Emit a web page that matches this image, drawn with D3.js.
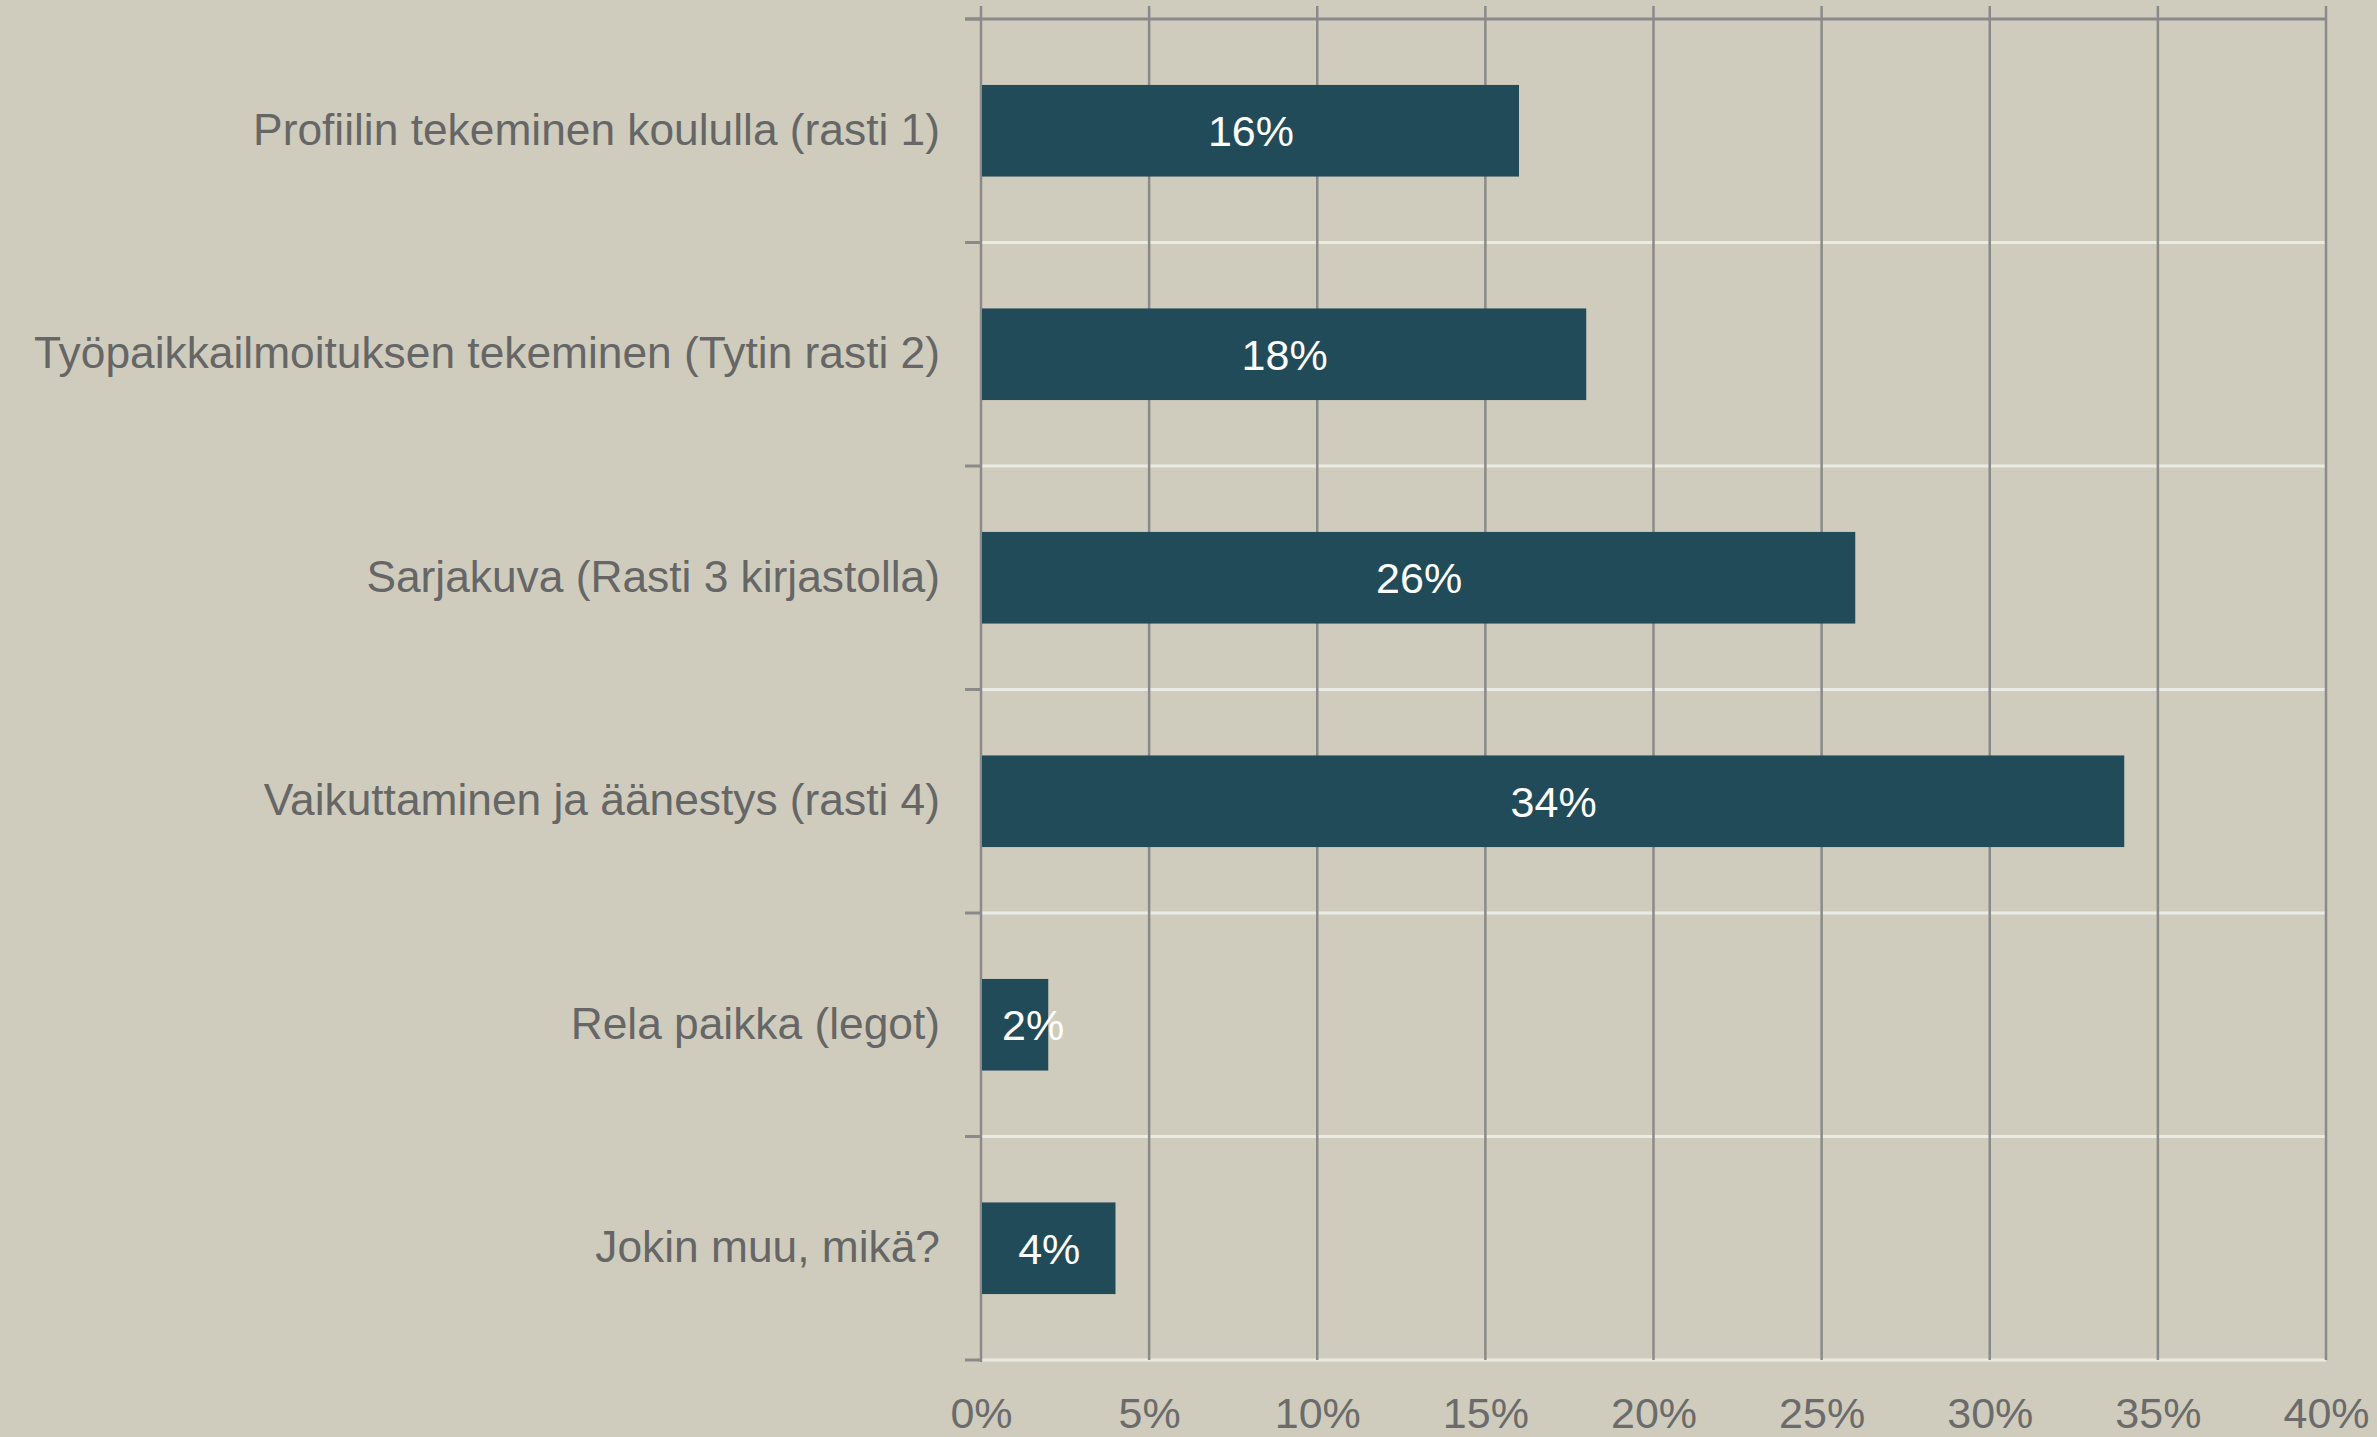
<!DOCTYPE html>
<html>
<head>
<meta charset="utf-8">
<script src="https://cdn.jsdelivr.net/npm/d3@7"></script>
<style>
  html, body { margin: 0; padding: 0; background: #cfccbd; }
  svg { display: block; }
  text { font-family: "Liberation Sans", Arial, sans-serif; }
</style>
</head>
<body>
<script>
const categories = [
  "Profiilin tekeminen koululla (rasti 1)",
  "Työpaikkailmoituksen tekeminen (Tytin rasti 2)",
  "Sarjakuva (Rasti 3 kirjastolla)",
  "Vaikuttaminen ja äänestys (rasti 4)",
  "Rela paikka (legot)",
  "Jokin muu, mikä?"
];
const values = [16, 18, 26, 34, 2, 4];
const xTicks = [0, 5, 10, 15, 20, 25, 30, 35, 40];

(function () {
const W = 2377, H = 1437;
const pLeft = 981, pRight = 2326, pTop = 19, pBottom = 1360;

const svg = d3.select("body").append("svg").attr("width", W).attr("height", H);
svg.append("rect").attr("width", W).attr("height", H).attr("fill", "#cfccbd");

const x = d3.scaleLinear().domain([0, 40]).range([pLeft, pRight]);
const y = d3.scaleBand().domain(categories).range([pTop, pBottom])
  .paddingInner(0.59).paddingOuter(0.295);

const gridColor = "#8a8a8a";
const whiteColor = "#ebebe6";

const step = y.step();
const boundaries = d3.range(1, categories.length + 1).map(i => pTop + i * step);
svg.append("g").selectAll("line").data(boundaries).join("line")
  .attr("x1", pLeft).attr("x2", pRight)
  .attr("y1", d => d).attr("y2", d => d)
  .attr("stroke", whiteColor).attr("stroke-width", 3);

svg.append("g").selectAll("line").data([pTop, ...boundaries]).join("line")
  .attr("x1", pLeft - 16).attr("x2", pLeft)
  .attr("y1", d => d).attr("y2", d => d)
  .attr("stroke", gridColor).attr("stroke-width", 3);

svg.append("line")
  .attr("x1", pLeft - 16).attr("x2", pRight + 1)
  .attr("y1", pTop).attr("y2", pTop)
  .attr("stroke", gridColor).attr("stroke-width", 3);

svg.append("g").selectAll("line").data(xTicks).join("line")
  .attr("x1", d => x(d)).attr("x2", d => x(d))
  .attr("y1", 6).attr("y2", d => d === 0 ? pBottom + 2 : pBottom)
  .attr("stroke", gridColor).attr("stroke-width", 2.5);

svg.append("g").selectAll("rect").data(values).join("rect")
  .attr("x", x(0) + 1)
  .attr("y", (d, i) => y(categories[i]))
  .attr("width", d => x(d) - x(0) - 1)
  .attr("height", y.bandwidth())
  .attr("fill", "#224b5a");

const labels = svg.append("g").selectAll("text").data(values).join("text")
  .attr("y", (d, i) => y(categories[i]) + y.bandwidth() / 2)
  .attr("dy", "0.36em")
  .attr("text-anchor", "middle")
  .attr("fill", "#ffffff")
  .attr("font-size", 43)
  .text(d => d + "%");
labels.each(function (d) {
  const w = this.getComputedTextLength();
  const cx = Math.max((x(0) + x(d)) / 2 + 1, x(0) + 21 + w / 2);
  d3.select(this).attr("x", cx);
});

const xAxis = d3.axisBottom(x).tickValues(xTicks).tickSize(0).tickPadding(37)
  .tickFormat(d => d + "%");
const gx = svg.append("g").attr("transform", `translate(0,${pBottom})`).call(xAxis);
gx.select(".domain").remove();
gx.selectAll("text").attr("font-size", 43).attr("fill", "#6b6b6b")
  .attr("font-family", "Liberation Sans, Arial, sans-serif");

const yAxis = d3.axisLeft(y).tickSize(0).tickPadding(41);
const gy = svg.append("g").attr("transform", `translate(${pLeft},0)`).call(yAxis);
gy.select(".domain").remove();
gy.selectAll("text").attr("font-size", 44.3).attr("fill", "#666666")
  .attr("font-family", "Liberation Sans, Arial, sans-serif");
})();
</script>
</body>
</html>
